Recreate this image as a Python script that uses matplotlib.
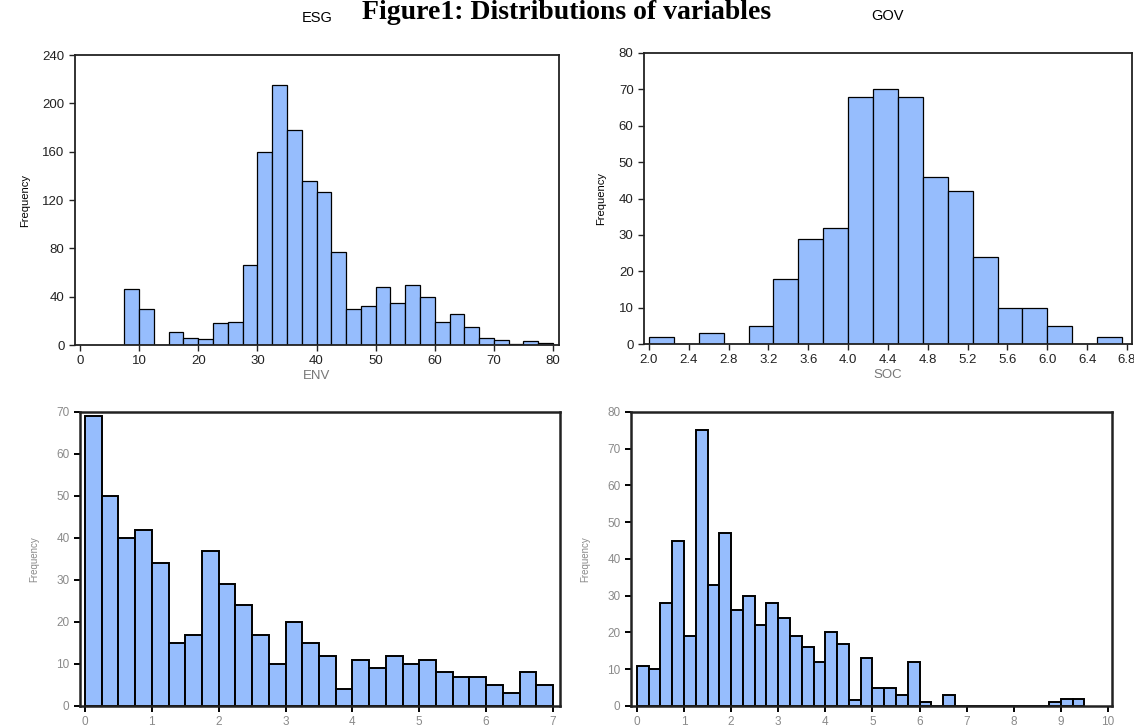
import matplotlib

matplotlib.use("Agg")
import matplotlib.pyplot as plt
import numpy as np
from matplotlib.ticker import FormatStrFormatter

plt.rcParams["font.family"] = ["Liberation Sans", "DejaVu Sans"]

# Histogram counts (bins of equal width)
env_start, env_width = 7.5, 2.5
env_counts = [46, 30, 0, 11, 6, 5, 18, 19, 66, 160, 215, 178, 136, 127, 77,
              30, 32, 48, 35, 50, 40, 19, 26, 15, 6, 4, 1, 3, 2]

soc_start, soc_width = 2.0, 0.25
soc_counts = [2, 0, 3, 0, 5, 18, 29, 32, 68, 70, 68, 46, 42, 24, 10, 10, 5, 0, 2]

bl_start, bl_width = 0.0, 0.25
bl_counts = [69, 50, 40, 42, 34, 15, 17, 37, 29, 24, 17, 10, 20, 15, 12, 4,
             11, 9, 12, 10, 11, 8, 7, 7, 5, 3, 8, 5]

br_start, br_width = 0.0, 0.25
br_counts = [11, 10, 28, 45, 19, 75, 33, 47, 26, 30, 22, 28, 24, 19, 16, 12,
             20, 17, 1.5, 13, 5, 5, 3, 12, 1, 0, 3, 0, 0, 0, 0, 0, 0, 0, 0, 1, 2, 2]

env_ticks = [0, 10, 20, 30, 40, 50, 60, 70, 80]
soc_ticks = [2.0, 2.4, 2.8, 3.2, 3.6, 4.0, 4.4, 4.8, 5.2, 5.6, 6.0, 6.4, 6.8]

BAR = "#96bdfd"

fig = plt.figure(figsize=(11.34, 7.27), dpi=100)

fig.text(0.5, 1 - 19 / 727, "Figure1: Distributions of variables", ha="center",
         va="baseline", fontsize=20, fontweight="bold",
         family=["Liberation Serif", "DejaVu Serif"])


def draw_hist(ax, start, width, counts, lw_bar, lw_spine):
    edges = start + width * np.arange(len(counts) + 1)
    ax.hist(edges[:-1], bins=edges, weights=counts, color=BAR,
            edgecolor="black", linewidth=lw_bar)
    for s in ax.spines.values():
        s.set_linewidth(lw_spine)
        s.set_color("#222222")


# top left
ax1 = fig.add_axes([0.0661, 0.5254, 0.4268, 0.3989])
draw_hist(ax1, env_start, env_width, env_counts, 0.9, 1.3)
ax1.set_xlim(-0.85, 81.0)
ax1.set_ylim(0, 240)
ax1.set_xticks(env_ticks)
ax1.set_yticks(range(0, 241, 40))
ax1.tick_params(labelsize=9.5, length=4, width=1, colors="#222222")
ax1.set_title("ESG", fontsize=10.5, pad=24)
ax1.set_xlabel("ENV", fontsize=9.5, color="#777777", labelpad=2)
ax1.set_ylabel("Frequency", fontsize=8, labelpad=9)

# top right
ax2 = fig.add_axes([0.5679, 0.5268, 0.4303, 0.4003])
draw_hist(ax2, soc_start, soc_width, soc_counts, 0.9, 1.3)
ax2.set_xlim(1.95, 6.85)
ax2.set_ylim(0, 80)
ax2.set_xticks(soc_ticks)
ax2.xaxis.set_major_formatter(FormatStrFormatter("%.1f"))
ax2.set_yticks(range(0, 81, 10))
ax2.tick_params(labelsize=9.5, length=4, width=1, colors="#222222")
ax2.set_title("GOV", fontsize=10.5, pad=24)
ax2.set_xlabel("SOC", fontsize=9.5, color="#777777", labelpad=2)
ax2.set_ylabel("Frequency", fontsize=8, labelpad=9)

# bottom left
ax3 = fig.add_axes([0.0705, 0.0289, 0.4233, 0.4044])
draw_hist(ax3, bl_start, bl_width, bl_counts, 1.4, 1.8)
ax3.set_xlim(-0.075, 7.105)
ax3.set_ylim(0, 70)
ax3.set_xticks(range(0, 8))
ax3.set_yticks(range(0, 71, 10))
ax3.tick_params(labelsize=8.5, length=4, width=1.4, labelcolor="#8a8a8a")
ax3.set_ylabel("Frequency", fontsize=7, color="#8a8a8a", labelpad=12)

# bottom right
ax4 = fig.add_axes([0.5564, 0.0289, 0.4242, 0.4044])
draw_hist(ax4, br_start, br_width, br_counts, 1.4, 1.8)
ax4.set_xlim(-0.127, 10.085)
ax4.set_ylim(0, 80)
ax4.set_xticks(range(0, 11))
ax4.set_yticks(range(0, 81, 10))
ax4.tick_params(labelsize=8.5, length=4, width=1.4, labelcolor="#8a8a8a")
ax4.set_ylabel("Frequency", fontsize=7, color="#8a8a8a", labelpad=12)

fig.savefig("out.png", dpi=100)
